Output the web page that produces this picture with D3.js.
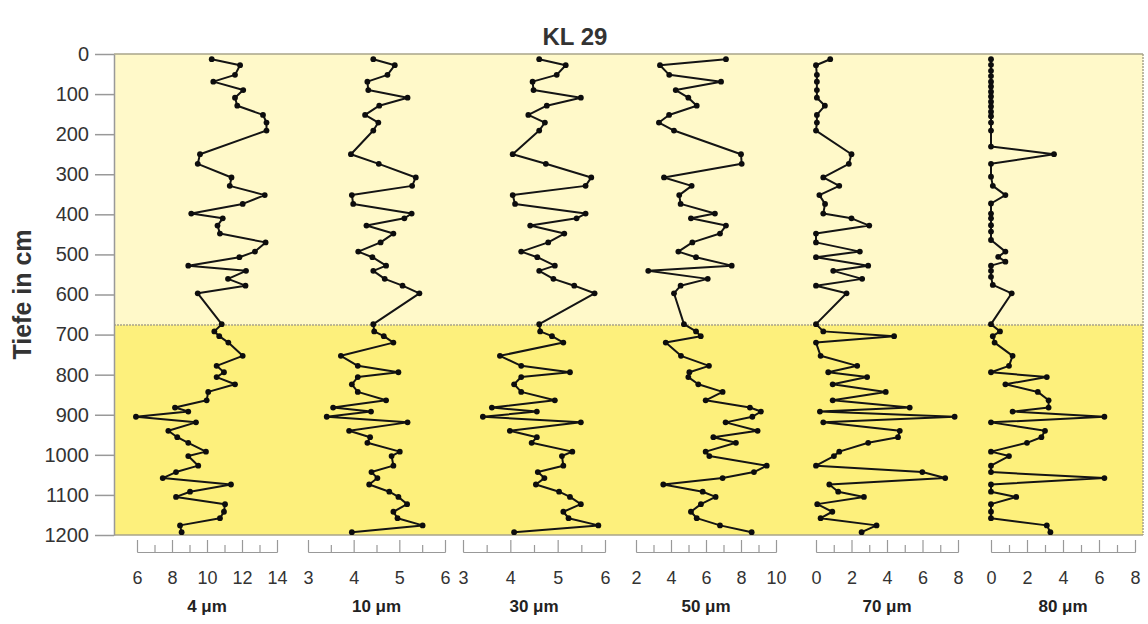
<!DOCTYPE html>
<html>
<head>
<meta charset="utf-8">
<script src="https://cdn.jsdelivr.net/npm/d3@7"></script>
<style>
body { margin: 0; background: #fff; }
text { font-family: "Liberation Sans", Arial, sans-serif; }
</style>
</head>
<body>
<div id="chart"></div>
<script>
// sample depths (cm) for the 4-70 um fractions
const depths = [13, 28, 52, 69, 90, 109, 129, 152, 171, 191,
	250, 274, 308, 329, 352, 374, 398, 410, 428, 448,
	470, 493, 507, 528, 541, 561, 578, 597,
	674, 692, 704, 720, 753, 778, 794, 806, 824, 843,
	864, 882, 892, 905, 919, 940, 956, 970, 992, 1003,
	1027, 1043, 1058, 1074, 1092, 1105, 1123, 1142, 1158, 1176, 1193]

// the 80 um curve is sampled more densely in the upper unit
const depths80 = [13, 27, 42, 55, 69, 81, 94, 106, 119, 131, 144, 155, 171, 191,
	231, 250, 274, 306, 329, 352, 373, 398, 410, 427, 443, 464,
	493, 506, 518, 528, 541, 556, 576, 597,
	674, 692, 704, 720, 753, 778, 794, 806, 824, 843,
	864, 882, 892, 905, 919, 940, 956, 970, 992, 1003,
	1027, 1043, 1058, 1074, 1092, 1105, 1123, 1142, 1158, 1176, 1193]

const frac4 = [10.27, 11.89, 11.6, 10.36, 12.07, 11.6, 11.73, 13.2, 13.4, 13.4,
	9.6, 9.47, 11.4, 11.3, 13.3, 12.04, 9.1, 10.9, 10.6, 10.74,
	13.35, 12.74, 11.85, 8.93, 12.23, 11.2, 12.2, 9.47,
	10.84, 10.42, 10.7, 11.22, 12.04, 10.55, 10.97, 10.55, 11.6, 10.07,
	9.98, 8.17, 8.93, 5.94, 9.37, 7.79, 8.3, 8.93, 9.94, 8.93,
	9.5, 8.23, 7.47, 11.37, 9.03, 8.23, 11.03, 10.97, 10.74, 8.46, 8.55]

const frac10 = [4.43, 4.90, 4.74, 4.30, 4.32, 5.18, 4.56, 4.25, 4.54, 4.43,
	3.94, 4.55, 5.36, 5.28, 3.96, 3.99, 5.27, 5.11, 4.28, 4.87,
	4.59, 4.10, 4.41, 4.71, 4.43, 4.68, 5.07, 5.44,
	4.43, 4.45, 4.66, 4.87, 3.72, 4.09, 4.98, 4.09, 3.96, 4.09,
	4.71, 3.55, 4.38, 3.41, 5.18, 3.90, 4.36, 4.30, 5.01, 4.83,
	4.87, 4.39, 4.52, 4.34, 4.78, 4.98, 5.17, 4.87, 4.96, 5.51, 3.96]

const frac30 = [4.61, 5.17, 4.98, 4.47, 4.49, 5.49, 4.77, 4.38, 4.73, 4.61,
	4.05, 4.75, 5.71, 5.59, 4.05, 4.10, 5.59, 5.40, 4.42, 5.14,
	4.80, 4.23, 4.57, 4.94, 4.61, 4.91, 5.35, 5.78,
	4.61, 4.63, 4.88, 5.12, 3.78, 4.23, 5.26, 4.23, 4.08, 4.23,
	4.94, 3.61, 4.56, 3.42, 5.49, 3.99, 4.56, 4.45, 5.31, 5.09,
	5.12, 4.58, 4.72, 4.54, 5.03, 5.26, 5.49, 5.12, 5.23, 5.86, 4.08]

const frac50 = [7.14, 3.37, 3.90, 6.86, 4.27, 4.99, 5.47, 3.89, 3.31, 4.17,
	8.0, 8.04, 3.6, 5.18, 4.47, 4.55, 6.51, 5.14, 7.14, 6.8,
	5.22, 4.42, 5.43, 7.47, 2.70, 6.10, 4.55, 4.17,
	4.74, 5.43, 5.70, 3.70, 4.57, 6.17, 5.05, 4.99, 5.56, 6.95,
	5.98, 8.51, 9.14, 8.65, 7.12, 8.95, 6.42, 7.71, 5.98, 6.19,
	9.47, 8.74, 6.95, 3.56, 5.81, 6.55, 5.71, 5.14, 5.47, 6.80, 8.61]

const frac70 = [0.8, 0, 0.05, 0.05, 0.05, 0.05, 0.5, 0.05, 0.05, 0,
	2.0, 1.85, 0.41, 1.31, 0.19, 0.51, 0.41, 2.0, 3.0, 0,
	0, 2.47, 0, 2.94, 0.97, 2.6, 0, 1.72,
	0, 0.41, 4.4, 0, 0.26, 2.32, 0.69, 2.88, 0.94, 3.93,
	0.94, 5.28, 0.22, 7.81, 0.41, 4.72, 4.62, 2.94, 1.31, 1.01,
	0, 5.99, 7.28, 0.75, 1.25, 2.7, 0.07, 0.92, 0.26, 3.41, 2.57]

const frac80 = [0, 0, 0, 0, 0, 0, 0, 0, 0, 0, 0, 0, 0, 0,
	0, 3.5, 0, 0, 0.1, 0.8, 0, 0, 0, 0, 0, 0,
	0.8, 0.4, 0.8, 0, 0, 0, 0.1, 1.15,
	0, 0.5, 0.1, 0.2, 1.2, 1.0, 0, 3.1, 0.8, 2.6,
	3.2, 3.2, 1.2, 6.3, 0, 3.0, 2.8, 2.0, 0, 1.0,
	0, 0, 6.3, 0, 0, 1.4, 0, 0, 0, 3.1, 3.3]

const series = [frac4, frac10, frac30, frac50, frac70, frac80]
const seriesDepths = [depths, depths, depths, depths, depths, depths80]
const panelNames = ["4 \u03bcm", "10 \u03bcm", "30 \u03bcm", "50 \u03bcm", "70 \u03bcm", "80 \u03bcm"]
const panelDomains = [[6, 14], [3, 6], [3, 6], [2, 10], [0, 8], [0, 8]]
const panelTicks = [[6, 8, 10, 12, 14], [3, 4, 5, 6], [3, 4, 5, 6], [2, 4, 6, 8, 10], [0, 2, 4, 6, 8], [0, 2, 4, 6, 8]]
const depthTicks = [0, 100, 200, 300, 400, 500, 600, 700, 800, 900, 1000, 1100, 1200]
const unitBreak = 676
const chartTitle = "KL 29"
const yTitle = "Tiefe in cm"

// layout
const W = 1148, H = 624
const plotLeft = 114, plotRight = 1143, plotTop = 54, plotBottom = 535
const panelRanges = [[137, 277], [308, 445], [463, 605], [636, 776], [816, 958], [991, 1135]]
const fmt = d3.format("d")

const svg = d3.select("#chart").append("svg")
	.attr("width", W)
	.attr("height", H)

const y = d3.scaleLinear().domain([0, 1200]).range([plotTop, plotBottom])

// background units
svg.append("rect")
	.attr("x", plotLeft).attr("y", y(0))
	.attr("width", plotRight - plotLeft).attr("height", y(unitBreak) - y(0))
	.attr("fill", "#fff9c9")
svg.append("rect")
	.attr("x", plotLeft).attr("y", y(unitBreak))
	.attr("width", plotRight - plotLeft).attr("height", y(1200) - y(unitBreak))
	.attr("fill", "#fdf07c")

// borders
svg.append("line")
	.attr("x1", plotLeft).attr("x2", plotRight).attr("y1", y(0)).attr("y2", y(0))
	.attr("stroke", "#a9a48a").attr("stroke-width", 1.5)
svg.append("line")
	.attr("x1", plotLeft).attr("x2", plotRight).attr("y1", y(unitBreak)).attr("y2", y(unitBreak))
	.attr("stroke", "#a9a48a").attr("stroke-width", 1.5).attr("stroke-dasharray", "2,1")
svg.append("line")
	.attr("x1", plotLeft).attr("x2", plotRight).attr("y1", y(1200)).attr("y2", y(1200))
	.attr("stroke", "#a9a48a").attr("stroke-width", 1.5)
svg.append("line")
	.attr("x1", plotRight).attr("x2", plotRight).attr("y1", y(0)).attr("y2", y(1200))
	.attr("stroke", "#a9a48a").attr("stroke-width", 1.5).attr("stroke-dasharray", "2,1")

// depth axis
const yAxis = svg.append("g")
	.attr("transform", `translate(${plotLeft},0)`)
	.call(d3.axisLeft(y).tickValues(depthTicks).tickFormat(fmt).tickSize(19).tickPadding(6).tickSizeOuter(0))
yAxis.select(".domain").attr("stroke", "#999").attr("stroke-width", 1.5)
yAxis.selectAll(".tick line").attr("stroke", "#999").attr("stroke-width", 1.5)
yAxis.selectAll(".tick text")
	.attr("font-size", 20)
	.attr("fill", "#333")
	.attr("font-family", "Liberation Sans, Arial, sans-serif")

svg.append("text")
	.attr("transform", `translate(31,${(plotTop + plotBottom) / 2}) rotate(-90)`)
	.attr("text-anchor", "middle")
	.attr("font-size", 25)
	.attr("font-weight", "bold")
	.attr("fill", "#333")
	.text(yTitle)

svg.append("text")
	.attr("x", 575).attr("y", 45)
	.attr("text-anchor", "middle")
	.attr("font-size", 24)
	.attr("font-weight", "bold")
	.attr("fill", "#333")
	.text(chartTitle)

const line = d3.line()

series.forEach((vals, i) => {
	const x = d3.scaleLinear().domain(panelDomains[i]).range(panelRanges[i])
	const pts = vals.map((v, k) => [x(v), y(seriesDepths[i][k])])

	const g = svg.append("g").attr("class", "panel")
	g.append("path")
		.attr("d", line(pts))
		.attr("fill", "none")
		.attr("stroke", "#141414")
		.attr("stroke-width", 2)
		.attr("stroke-linejoin", "round")
	g.selectAll("circle")
		.data(pts)
		.join("circle")
		.attr("cx", d => d[0])
		.attr("cy", d => d[1])
		.attr("r", 2.9)
		.attr("fill", "#0d0d0d")

	// bottom axis: major + minor ticks pointing up from the baseline
	const step = panelTicks[i][1] - panelTicks[i][0]
	const minor = d3.range(panelDomains[i][0] + step / 2, panelDomains[i][1], step)
	const ax = svg.append("g").attr("transform", "translate(0,552)")
	ax.call(d3.axisTop(x).tickValues(panelTicks[i]).tickSize(12).tickFormat("").tickSizeOuter(0))
	ax.append("g").call(d3.axisTop(x).tickValues(minor).tickSize(7).tickFormat("").tickSizeOuter(0))
	ax.selectAll("path, line").attr("stroke", "#999").attr("stroke-width", 1.2)

	const lab = svg.append("g").attr("transform", "translate(0,571)")
	lab.call(d3.axisBottom(x).tickValues(panelTicks[i]).tickFormat(fmt).tickSize(0).tickPadding(0))
	lab.select(".domain").remove()
	lab.selectAll("text")
		.attr("font-size", 18)
		.attr("fill", "#333")
		.attr("font-family", "Liberation Sans, Arial, sans-serif")

	svg.append("text")
		.attr("x", (panelRanges[i][0] + panelRanges[i][1]) / 2)
		.attr("y", 612)
		.attr("text-anchor", "middle")
		.attr("font-size", 17)
		.attr("font-weight", "bold")
		.attr("fill", "#222")
		.text(panelNames[i])
})
</script>
</body>
</html>
